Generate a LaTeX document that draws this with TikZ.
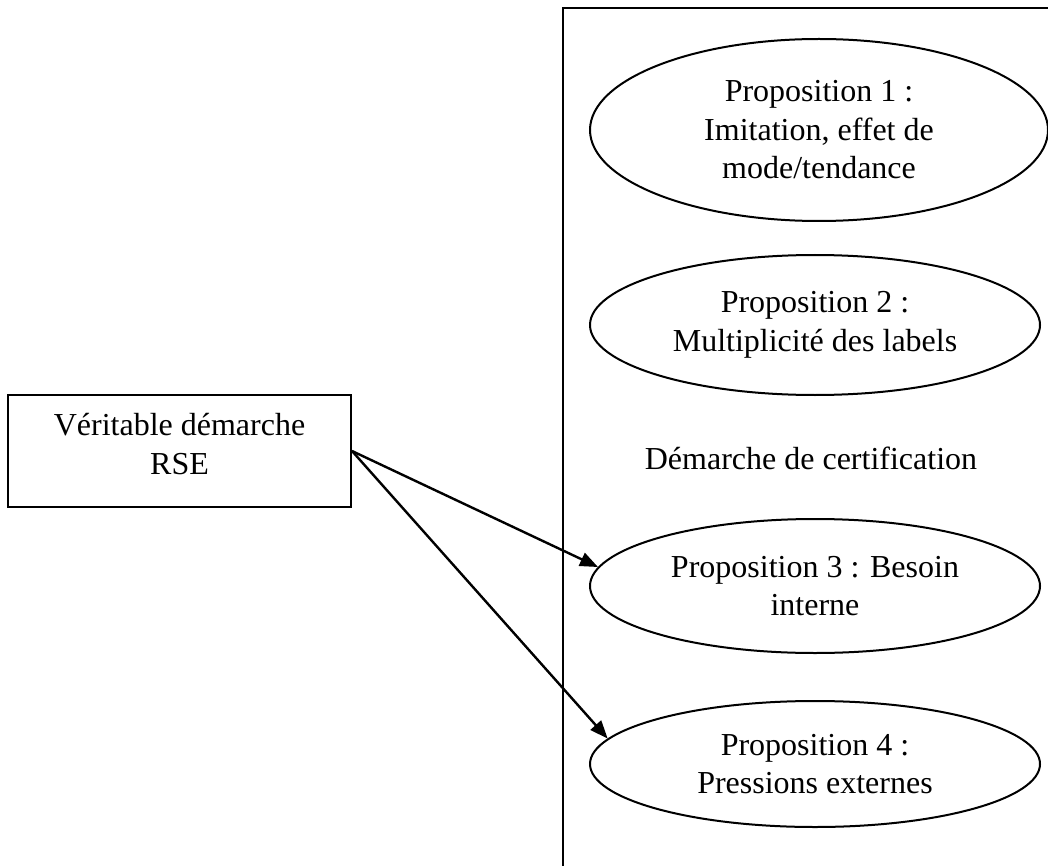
\documentclass[tikz,border=0pt]{standalone}
\usepackage{fontspec}
\setmainfont{Liberation Serif}
\usetikzlibrary{arrows.meta,shapes.geometric}
\begin{document}
\begin{tikzpicture}[x=1pt,y=-1pt,
  lbl/.style={font=\fontsize{32}{38.5}\selectfont, align=center},
  prop/.style={lbl, draw, line width=2pt, ellipse, inner sep=0pt, minimum width=450pt, minimum height=134pt},
  frame/.style={draw, line width=2pt},
  boxstyle/.style={draw, line width=2pt, minimum width=343pt, minimum height=112pt, inner sep=0pt},
  arr/.style={line width=2.4pt, -{Triangle[length=18pt,width=14pt]}}]
\useasboundingbox (0,0) rectangle (1048,866);
\clip (0,0) rectangle (1048,866);
\fill[white] (0,0) rectangle (1048,866);
% container
\draw[frame] (563,8) rectangle (1100,900);
% ellipses
\node[prop, minimum width=458pt, minimum height=182pt] (p1) at (819,130) {Proposition 1 :\\Imitation, effet de\\mode/tendance};
\node[prop, minimum height=140pt] (p2) at (815,325) {Proposition 2 :\\Multiplicité des labels};
\node[lbl] (cert) at (811,458) {Démarche de certification};
\node[prop] (p3) at (815,586) {Proposition 3 : Besoin\\interne};
\node[prop, minimum height=126pt] (p4) at (815,764) {Proposition 4 :\\Pressions externes};
% RSE box
\node[boxstyle] (rse) at (179.5,451) {};
\node[lbl] (rsetext) at (179.5,444) {Véritable démarche\\RSE};
% arrows
\draw[arr] (rse.east) -- (p3.175.5);
\draw[arr] (rse.east) -- (p4.173.8);
\end{tikzpicture}
\end{document}
